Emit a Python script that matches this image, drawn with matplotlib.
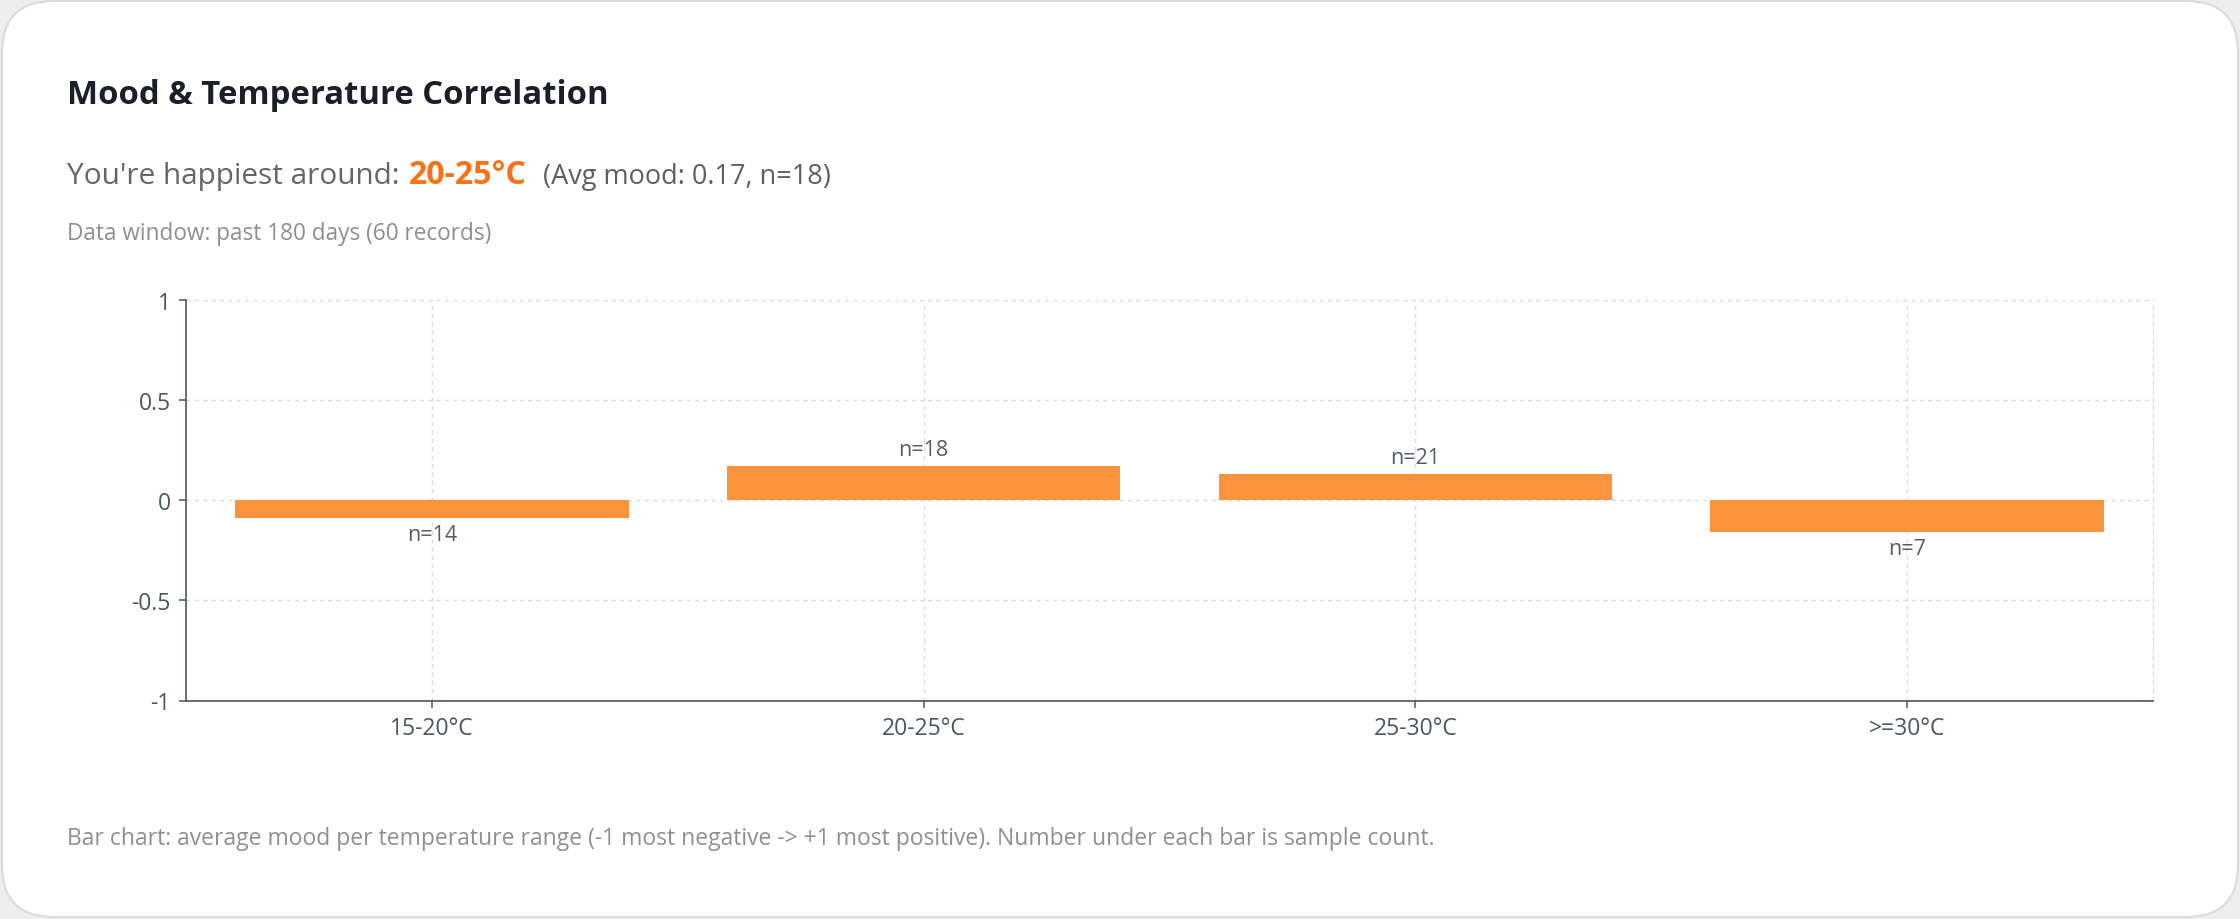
import matplotlib
matplotlib.use("Agg")
import matplotlib.pyplot as plt
from matplotlib.patches import FancyBboxPatch
import numpy as np

# ---------------- data ----------------
categories = ["15-20°C", "20-25°C", "25-30°C", ">=30°C"]
avg_mood = [-0.09, 0.17, 0.13, -0.16]
counts = [14, 18, 21, 7]
y_ticks = [-1, -0.5, 0, 0.5, 1]
y_tick_labels = ["-1", "-0.5", "0", "0.5", "1"]

title = "Mood & Temperature Correlation"
sub_prefix = "You're happiest around:"
best_range = "20-25°C"
sub_suffix = "(Avg mood: 0.17, n=18)"
window_text = "Data window: past 180 days (60 records)"
footer_text = ("Bar chart: average mood per temperature range (-1 most negative -> +1 most positive). "
               "Number under each bar is sample count.")

# ---------------- style ----------------
W, H = 2240, 920
plt.rcParams['font.family'] = ['Open Sans', 'Noto Sans', 'DejaVu Sans']
BAR = '#fb923c'
ORANGE = '#f97316'
AXIS = '#4a5561'
TICKTXT = '#4b5563'
GRID = '#dddddd'

fig = plt.figure(figsize=(W / 100, H / 100), dpi=100)
fig.patch.set_facecolor('#eeeeee')

bg = fig.add_axes([0, 0, 1, 1])
bg.set_xlim(0, W)
bg.set_ylim(H, 0)
bg.axis('off')
bg.add_patch(FancyBboxPatch((2, 2), W - 4, H - 4,
                            boxstyle="round,pad=0,rounding_size=52",
                            fc='white', ec='#dcdcdc', lw=1.5))

renderer = fig.canvas.get_renderer()


def fitted(x, y, s, target_w, size, **kw):
    t = bg.text(x, y, s, fontsize=size, va='baseline', ha='left', **kw)
    w = t.get_window_extent(renderer).width
    t.set_fontsize(size * target_w / w)
    return t


fitted(67, 104, title, 540, 22, color='#1b1f2a', fontweight='bold')
fitted(67, 184, sub_prefix, 333, 20, color='#666666')
fitted(409, 184, best_range, 118, 20, color=ORANGE, fontweight='bold')
fitted(543, 184, sub_suffix, 289, 17, color='#5f5f5f')
fitted(67, 240, window_text, 426, 15, color='#8f8f8f')
fitted(67, 845, footer_text, 1363, 15, color='#8f8f8f')

# ---------------- chart ----------------
left, right, top, bottom = 186, 2153, 301, 701.5
ax = fig.add_axes([left / W, 1 - bottom / H, (right - left) / W, (bottom - top) / H])
ax.set_facecolor('none')

x = np.arange(len(categories))
ax.bar(x, avg_mood, width=0.8, color=BAR, zorder=3)
ax.set_xlim(-0.5, len(categories) - 0.5)
ax.set_ylim(-1, 1)
ax.set_yticks(y_ticks, y_tick_labels)
ax.set_xticks(x, categories)

ax.grid(True, color=GRID, linestyle=(0, (3, 3)), linewidth=1.0, zorder=0)
ax.set_axisbelow(True)

for side in ['left', 'bottom']:
    ax.spines[side].set_color(AXIS)
    ax.spines[side].set_linewidth(1.2)
ax.spines['top'].set_visible(False)
ax.spines['right'].set_color(GRID)
ax.spines['right'].set_linestyle((0, (3, 3)))
ax.spines['right'].set_linewidth(1.0)

ax.tick_params(axis='both', length=5, width=1.1, color=AXIS,
               labelcolor=TICKTXT, labelsize=16.5)
ax.tick_params(axis='x', pad=6.5)
ax.tick_params(axis='y', pad=6)

for xi, v, c in zip(x, avg_mood, counts):
    off = 12 if v >= 0 else -12
    ax.annotate(f"n={c}", (xi, v), xytext=(0, off), textcoords='offset points',
                ha='center', va='center', fontsize=15.5, color='#555d66', zorder=4)

fig.savefig("out.png", dpi=100, facecolor=fig.get_facecolor())
